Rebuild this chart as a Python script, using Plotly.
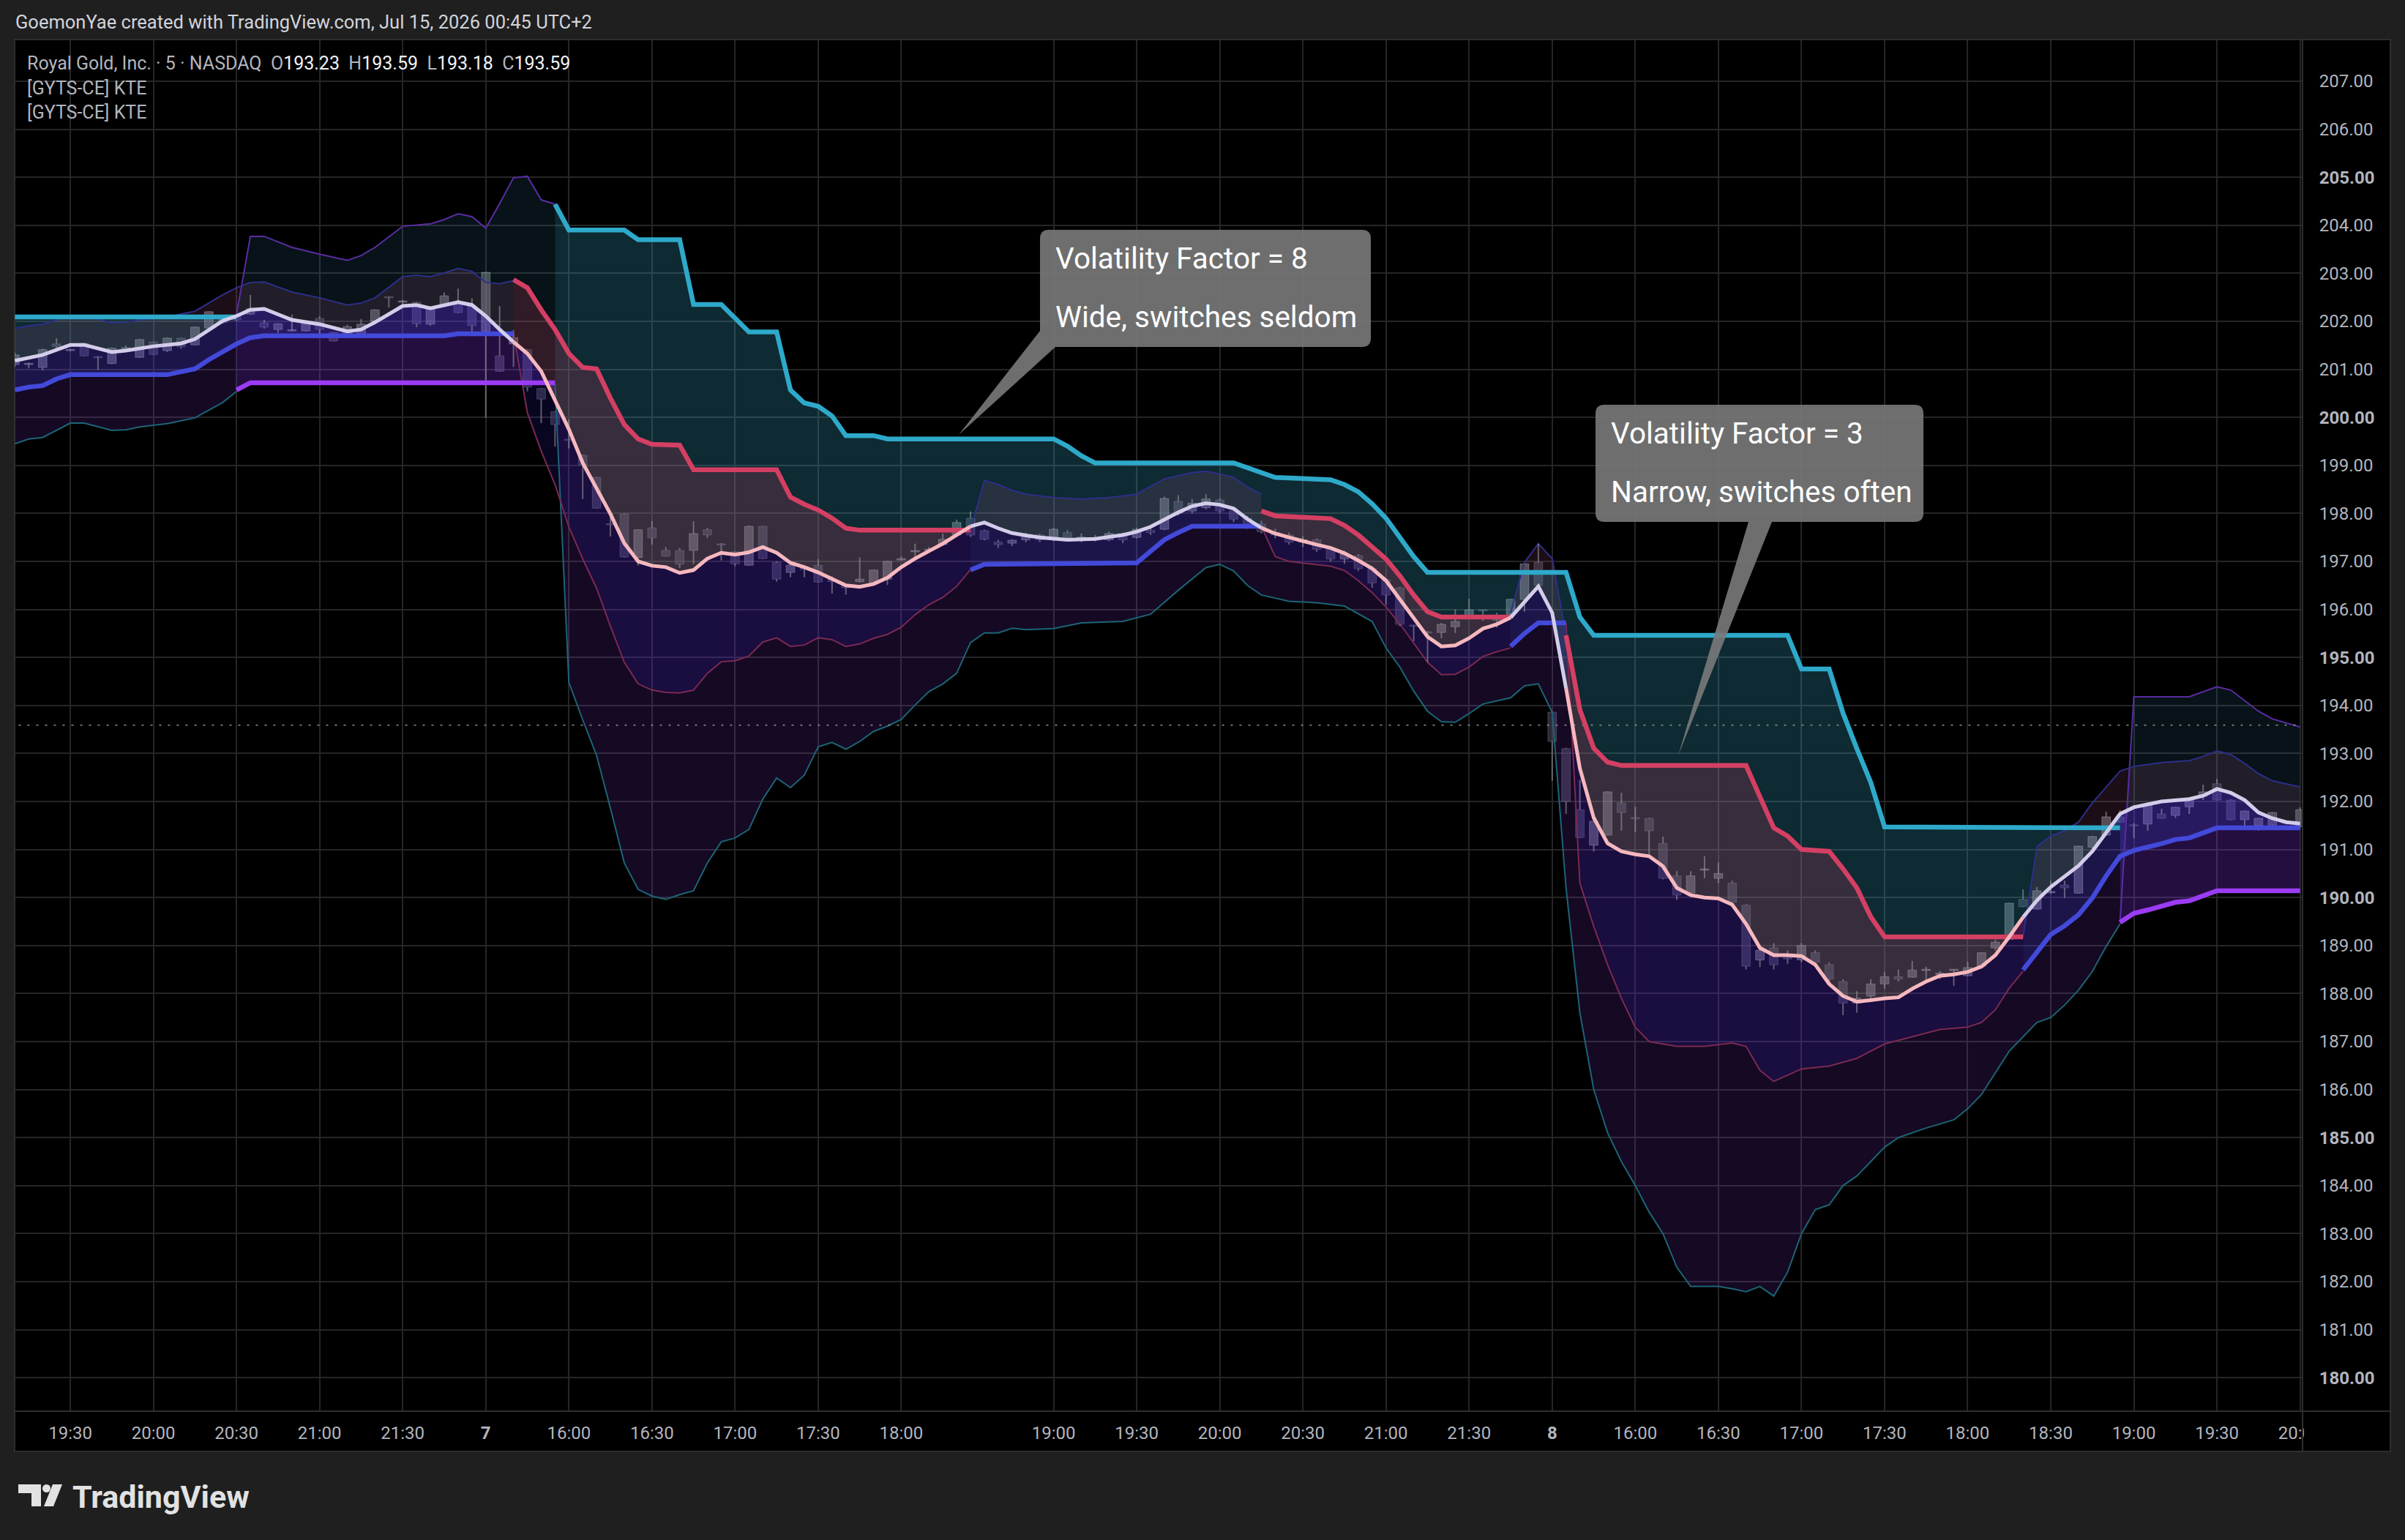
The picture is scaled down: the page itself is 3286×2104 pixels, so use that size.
import plotly.graph_objects as go

W, H = 3286, 2104
L_PX, R_PX, T_PX, B_PX = 20, 3146, 54, 1928

# ---------------- candles (5-min bars, index 0 = 19:10 of day 6) ----------------
opens = [201.10,201.10,201.04,201.53,201.39,201.54,201.25,201.12,201.38,201.25,
         201.57,201.39,201.65,201.51,201.86,202.05,202.09,202.15,201.97,201.83,
         201.80,201.80,202.06,201.77,201.66,201.73,202.00,202.50,202.40,202.40,
         201.94,202.34,202.40,202.32,201.80,201.28,201.53,201.41,200.60,200.12,
         199.53,199.21,198.75,197.78,197.99,197.08,197.70,197.23,197.23,197.23,
         197.66,197.36,197.20,196.92,197.73,196.98,196.77,196.84,196.92,196.63,
         196.50,196.58,196.53,196.63,197.03,197.20,197.23,197.35,197.55,197.90,
         197.64,197.40,197.38,197.45,197.55,197.45,197.60,197.48,197.50,197.45,
         197.58,197.50,197.65,197.67,198.25,198.05,198.12,198.28,198.05,197.90,
         197.78,197.60,197.55,197.40,197.45,197.28,197.05,197.12,196.85,196.62,
         196.45,195.66,195.53,195.52,195.64,195.83,195.98,195.79,195.90,196.21,
         196.98,193.86,193.10,191.83,191.09,191.30,191.97,191.66,191.65,191.13,
         190.45,190.10,190.57,190.40,190.30,189.84,188.70,188.95,188.75,188.70,
         188.85,188.60,188.25,187.80,187.95,188.20,188.35,188.34,188.48,188.40,
         188.48,188.37,188.57,188.95,189.13,189.96,189.76,190.10,190.26,190.09,
         191.05,191.30,191.68,191.51,191.53,191.74,191.71,191.89,192.11,192.37,
         192.03,191.62,191.50,191.51,191.55,191.48]
highs = [201.35,201.14,201.43,201.65,201.41,201.55,201.27,201.45,201.50,201.63,
         201.58,201.66,201.66,201.89,202.21,202.08,202.10,202.55,202.03,201.96,
         202.14,201.99,202.11,201.78,201.93,202.05,202.25,202.51,202.44,202.41,
         202.27,202.60,202.68,202.48,203.03,202.32,201.82,201.42,200.61,200.13,
         199.96,199.22,198.76,197.99,198.00,197.67,197.84,197.30,197.28,197.84,
         197.70,197.38,197.21,197.75,197.74,197.00,196.93,196.92,197.05,196.69,
         196.51,197.08,196.83,197.01,197.10,197.37,197.30,197.58,197.87,198.04,
         197.66,197.45,197.46,197.60,197.58,197.70,197.65,197.58,197.55,197.62,
         197.60,197.70,197.72,198.35,198.38,198.30,198.40,198.32,198.10,197.95,
         197.85,197.68,197.60,197.52,197.48,197.32,197.22,197.15,196.90,196.65,
         196.47,195.67,195.55,195.72,196.00,196.22,195.99,195.93,196.22,196.96,
         197.37,193.87,193.12,192.45,191.60,192.21,192.18,191.89,191.66,191.27,
         190.55,190.55,190.86,190.73,190.35,189.86,189.00,189.05,188.90,189.05,
         188.90,188.65,188.30,188.05,188.30,188.45,188.50,188.68,188.56,188.47,
         188.50,188.66,188.86,189.12,189.89,190.17,190.22,190.35,190.35,191.08,
         191.28,191.79,191.82,191.55,191.98,191.85,191.89,192.04,192.35,192.47,
         192.04,191.81,191.66,191.78,191.60,191.88]
lows = [201.05,201.02,200.98,201.42,201.38,201.27,200.99,201.11,201.36,201.24,
        201.30,201.36,201.43,201.50,201.85,201.95,202.00,202.14,201.85,201.76,
        201.79,201.79,201.73,201.58,201.65,201.71,201.99,202.29,202.33,201.88,
        201.91,202.33,202.17,201.75,199.99,200.95,201.05,200.54,199.88,199.39,
        199.35,198.30,198.10,197.52,197.08,196.91,197.35,197.10,196.86,196.94,
        197.49,197.02,196.90,196.91,197.05,196.58,196.67,196.67,196.56,196.33,
        196.31,196.56,196.52,196.51,197.02,197.06,197.19,197.34,197.54,197.51,
        197.44,197.28,197.32,197.40,197.40,197.42,197.45,197.40,197.42,197.42,
        197.38,197.48,197.55,197.65,197.95,198.00,198.08,198.00,197.82,197.68,
        197.58,197.48,197.35,197.30,197.20,197.00,196.95,196.80,196.45,196.10,
        195.65,195.34,194.90,195.40,195.51,195.82,195.76,195.62,195.89,195.95,
        196.49,192.43,191.74,191.24,190.96,191.29,191.39,191.36,190.90,190.38,
        189.95,190.05,190.40,190.30,189.80,188.50,188.55,188.50,188.62,188.65,
        188.55,188.25,187.55,187.60,187.90,188.10,188.25,188.33,188.25,188.30,
        188.16,188.36,188.56,188.90,189.12,189.80,189.75,190.08,189.99,190.08,
        190.93,191.29,191.56,191.24,191.39,191.64,191.66,191.74,192.03,192.02,
        191.61,191.44,191.39,191.50,191.52,191.44]
closes = [201.30,201.11,201.41,201.48,201.40,201.28,201.24,201.44,201.45,201.62,
          201.31,201.65,201.47,201.88,202.20,201.97,202.03,202.26,201.88,201.95,
          201.81,201.98,201.83,201.59,201.89,201.94,202.24,202.49,202.41,201.95,
          202.26,202.53,202.18,201.91,203.02,200.96,201.66,200.63,200.38,199.85,
          199.52,199.01,198.11,197.76,197.09,197.66,197.49,197.11,196.94,197.58,
          197.55,197.34,196.95,197.73,197.06,196.63,196.92,196.83,196.57,196.58,
          196.45,196.63,196.82,197.00,197.05,197.22,197.25,197.46,197.81,197.55,
          197.46,197.35,197.44,197.55,197.45,197.67,197.50,197.50,197.46,197.58,
          197.45,197.67,197.60,198.31,198.00,198.21,198.30,198.05,197.88,197.75,
          197.62,197.55,197.40,197.45,197.25,197.05,197.15,196.85,196.55,196.30,
          195.69,195.65,195.51,195.69,195.75,195.99,195.97,195.77,196.21,196.95,
          196.50,193.25,192.00,191.25,191.59,192.20,191.77,191.64,191.39,190.40,
          190.05,190.45,190.58,190.50,189.90,188.57,188.90,188.60,188.72,189.00,
          188.65,188.30,187.80,187.90,188.20,188.35,188.30,188.49,188.50,188.41,
          188.49,188.54,188.85,189.07,189.88,189.81,190.14,190.12,190.20,191.07,
          191.27,191.68,191.57,191.49,191.94,191.65,191.88,192.03,192.20,192.03,
          191.62,191.80,191.65,191.77,191.57,191.83]
last_price = 193.59

# ---------------- time axis ----------------
tick_idx = [4, 10, 16, 22, 28, 34, 40, 46, 52, 58, 64, 75, 81, 87, 93, 99, 105,
            111, 117, 123, 129, 135, 141, 147, 153, 159, 165]
tick_txt = ["19:30", "20:00", "20:30", "21:00", "21:30", "<b>7</b>", "16:00", "16:30",
            "17:00", "17:30", "18:00", "19:00", "19:30", "20:00", "20:30", "21:00",
            "21:30", "<b>8</b>", "16:00", "16:30", "17:00", "17:30", "18:00", "18:30",
            "19:00", "19:30", "20:00"]
price_ticks = list(range(180, 208))
price_txt = [("<b>%.2f</b>" % v) if v % 5 == 0 else ("%.2f" % v) for v in price_ticks]

# ---------------- KTE centre line [bar, price] ----------------
center = [[0,201.18],[2,201.30],[4,201.51],[5,201.51],[7,201.36],[8,201.39],[10,201.48],[12,201.54],
 [13,201.63],[15,202.01],[16,202.11],[17,202.24],[18,202.26],[20,202.03],[22,201.94],[24,201.79],
 [25,201.83],[26,201.98],[28,202.32],[29,202.34],[30,202.27],[31,202.34],[32,202.40],[33,202.34],
 [34,202.11],[35,201.83],[36,201.57],[37,201.33],[38,200.96],[39,200.35],[40,199.75],[41,199.05],
 [42,198.5],[43,197.99],[44,197.38],[45,197.0],[46,196.91],[47,196.88],[48,196.76],[49,196.82],
 [50,197.06],[51,197.18],[52,197.14],[53,197.19],[54,197.30],[55,197.18],[56,196.97],[57,196.88],
 [58,196.77],[59,196.63],[60,196.50],[61,196.47],[62,196.53],[63,196.66],[64,196.88],[65,197.06],
 [66,197.21],[67,197.37],[68,197.55],[69,197.73],[70,197.81],[71,197.69],[72,197.59],[73,197.54],
 [74,197.5],[76,197.45],[78,197.47],[80,197.55],[81,197.62],[82,197.72],[83,197.88],[84,198.02],
 [85,198.15],[86,198.21],[87,198.18],[88,198.1],[89,197.88],[90,197.7],[91,197.58],[92,197.5],
 [93,197.42],[94,197.35],[95,197.28],[96,197.17],[97,197.02],[98,196.85],[99,196.6],[100,196.2],
 [101,195.8],[102,195.43],[103,195.23],[104,195.25],[105,195.40],[106,195.60],[107,195.69],
 [108,195.83],[109,196.15],[110,196.48],[111,195.93],[112,194.36],[113,192.69],[114,191.66],
 [115,191.13],[116,190.96],[117,190.9],[118,190.86],[119,190.65],[120,190.2],[121,190.05],
 [122,190.0],[123,189.98],[124,189.85],[125,189.45],[126,188.95],[127,188.8],[128,188.8],
 [129,188.78],[130,188.6],[131,188.2],[132,187.95],[133,187.83],[134,187.86],[135,187.9],
 [136,187.92],[137,188.1],[138,188.25],[139,188.37],[140,188.4],[141,188.45],[142,188.56],
 [143,188.80],[144,189.18],[145,189.59],[146,189.94],[147,190.22],[148,190.43],[149,190.66],
 [150,190.96],[151,191.36],[152,191.74],[153,191.88],[155,192.0],[157,192.05],[158,192.12],
 [159,192.26],[160,192.18],[161,192.03],[162,191.77],[163,191.65],[164,191.57],[165,191.54]]

# ---------------- Factor 8 (wide) ----------------
cyan_stop = [
 [[0,202.09],[16,202.09]],
 [[39,204.44],[40,203.9],[44,203.9],[45,203.7],[48,203.7],[49,202.35],[51,202.35],[53,201.78],
  [55,201.78],[56,200.57],[57,200.3],[58,200.23],[59,200.03],[60,199.62],[62,199.62],[63,199.55],
  [75,199.55],[76,199.40],[77,199.2],[78,199.05],[88,199.05],[89,198.95],[90,198.85],[91,198.75],
  [95,198.7],[96,198.6],[97,198.45],[98,198.2],[99,197.9],[100,197.5],[101,197.1],[102,196.77],
  [112,196.77],[113,195.84],[114,195.46],[128,195.46],[129,194.76],[131,194.76],[132,193.84],
  [133,193.1],[134,192.40],[135,191.47],[152,191.45]]]
purple_stop = [
 [[16,200.57],[17,200.72],[39,200.72]],
 [[152,189.48],[153,189.67],[154,189.74],[156,189.90],[157,189.93],[159,190.14],[165,190.14]]]
upper8 = [
 [[16,202.14],[17,203.77],[18,203.77],[20,203.54],[22,203.40],[24,203.27],[25,203.37],[26,203.54],
  [28,203.98],[30,204.03],[31,204.12],[32,204.24],[33,204.18],[34,203.94],[35,204.45],[36,204.99],
  [37,205.02],[38,204.53],[39,204.44]],
 [[152,189.48],[153,194.18],[157,194.18],[158,194.29],[159,194.39],[160,194.32],[161,194.10],
  [162,193.88],[163,193.72],[165,193.55]]]
lower8 = [
 [[0,199.45],[1,199.55],[2,199.58],[4,199.88],[5,199.88],[7,199.73],[8,199.74],[9,199.80],
  [11,199.87],[13,199.99],[15,200.31],[16,200.54]],
 [[39,200.69],[40,194.48],[41,193.7],[42,192.96],[43,191.86],[44,190.72],[45,190.17],[46,190.03],
  [47,189.96],[48,190.06],[49,190.14],[50,190.72],[51,191.16],[52,191.24],[53,191.42],[54,192.05],
  [55,192.49],[56,192.29],[57,192.55],[58,193.14],[59,193.23],[60,193.09],[61,193.25],[62,193.46],
  [63,193.57],[64,193.71],[65,194.01],[66,194.29],[67,194.45],[68,194.67],[69,195.31],[70,195.51],
  [71,195.51],[72,195.61],[73,195.58],[75,195.6],[77,195.72],[80,195.75],[82,195.9],[84,196.4],
  [86,196.87],[87,196.94],[88,196.8],[89,196.5],[90,196.3],[92,196.17],[94,196.14],[96,196.07],
  [98,195.75],[99,195.2],[100,194.8],[101,194.3],[102,193.88],[103,193.66],[104,193.65],
  [105,193.83],[106,194.03],[107,194.1],[108,194.16],[109,194.41],[110,194.45],[111,193.86],
  [112,190.2],[113,187.6],[114,186.0],[115,185.1],[116,184.5],[117,184.0],[118,183.45],
  [119,183.0],[120,182.3],[121,181.9],[123,181.9],[124,181.85],[125,181.79],[126,181.9],
  [127,181.7],[128,182.2],[129,183.0],[130,183.5],[131,183.6],[132,184.0],[133,184.2],
  [134,184.5],[135,184.8],[136,185.0],[138,185.2],[140,185.37],[141,185.6],[142,185.9],
  [143,186.35],[144,186.8],[145,187.1],[146,187.4],[147,187.5],[148,187.76],[149,188.07],
  [150,188.46],[151,188.98],[152,189.45]]]

# ---------------- Factor 3 (narrow) ----------------
red_stop = [
 [[36,202.87],[37,202.70],[38,202.24],[39,201.83],[40,201.33],[41,201.04],[42,201.01],[43,200.4],
  [44,199.85],[45,199.55],[46,199.44],[48,199.42],[49,198.91],[55,198.91],[56,198.34],[57,198.19],
  [58,198.07],[59,197.90],[60,197.69],[61,197.65],[69,197.65]],
 [[90,198.05],[91,197.95],[95,197.89],[96,197.75],[97,197.55],[98,197.3],[99,197.05],[100,196.7],
  [101,196.3],[102,195.95],[103,195.84],[108,195.84]],
 [[112,195.46],[113,193.91],[114,193.11],[115,192.82],[116,192.75],[125,192.75],[126,192.1],
  [127,191.45],[128,191.28],[129,191.0],[131,190.96],[132,190.6],[133,190.2],[134,189.6],
  [135,189.18],[145,189.18]]]
blue_stop = [
 [[0,200.57],[1,200.63],[2,200.66],[3,200.8],[4,200.89],[11,200.89],[12,200.95],[13,201.01],
  [14,201.2],[15,201.37],[16,201.53],[17,201.66],[18,201.70],[31,201.70],[32,201.74],[36,201.74]],
 [[69,196.82],[70,196.94],[81,196.97],[82,197.2],[83,197.45],[84,197.6],[85,197.73],[90,197.73]],
 [[108,195.23],[109,195.5],[110,195.72],[112,195.72]],
 [[145,188.49],[146,188.88],[147,189.23],[148,189.41],[149,189.64],[150,189.99],[151,190.45],
  [152,190.86],[153,190.98],[155,191.12],[156,191.21],[157,191.24],[159,191.45],[165,191.45]]]
upper3 = [
 [[0,201.85],[1,201.91],[2,201.94],[4,202.12],[5,202.12],[7,201.97],[8,201.98],[9,202.03],
  [11,202.09],[13,202.21],[15,202.55],[16,202.70],[17,202.81],[18,202.82],[20,202.61],[22,202.49],
  [24,202.34],[25,202.38],[26,202.49],[28,202.93],[29,202.96],[30,202.93],[31,203.01],[32,203.10],
  [33,203.04],[34,202.81],[35,202.78],[36,202.85]],
 [[69,197.65],[70,198.69],[71,198.60],[72,198.48],[73,198.40],[75,198.33],[77,198.3],[79,198.33],
  [81,198.4],[83,198.72],[85,198.85],[86,198.88],[87,198.82],[88,198.75],[89,198.55],[90,198.4]],
 [[108,195.93],[109,196.98],[110,197.37],[111,197.06],[112,195.48]],
 [[145,189.17],[146,191.06],[147,191.28],[148,191.39],[149,191.57],[150,191.97],[151,192.30],
  [152,192.63],[153,192.73],[155,192.81],[157,192.85],[158,192.94],[159,193.05],[160,192.98],
  [161,192.79],[162,192.58],[163,192.43],[165,192.30]]]
lower3 = [
 [[36,201.74],[37,200.1],[38,199.3],[39,198.6],[40,197.72],[41,197.05],[42,196.44],[43,195.65],
  [44,194.90],[45,194.45],[46,194.32],[47,194.27],[48,194.26],[49,194.32],[50,194.67],[51,194.91],
  [52,194.93],[53,195.03],[54,195.32],[55,195.41],[56,195.23],[57,195.26],[58,195.41],[59,195.37],
  [60,195.23],[61,195.28],[62,195.40],[63,195.48],[64,195.63],[65,195.89],[66,196.10],[67,196.25],
  [68,196.48],[69,196.83]],
 [[90,197.73],[91,197.1],[92,197.0],[93,196.97],[95,196.9],[96,196.81],[97,196.6],[98,196.35],
  [99,196.05],[100,195.7],[101,195.3],[102,194.90],[103,194.64],[104,194.65],[105,194.8],
  [106,195.02],[107,195.12],[108,195.20]],
 [[112,195.72],[113,190.3],[114,189.4],[115,188.6],[116,187.9],[117,187.3],[118,187.0],
  [119,186.95],[120,186.9],[122,186.9],[124,186.97],[125,186.9],[126,186.4],[127,186.17],
  [128,186.3],[129,186.43],[131,186.49],[133,186.65],[135,186.95],[137,187.1],[139,187.25],
  [141,187.3],[142,187.4],[143,187.66],[144,188.11],[145,188.46]]]

# ---------------- helpers ----------------
# paper coordinates in plotly are relative to the plotting area
def px(x):
    return (x - L_PX) / (R_PX - L_PX)

def py(y):
    return (B_PX - y) / (B_PX - T_PX)

def xs(line):
    return [p[0] for p in line]

def ys(line):
    return [p[1] for p in line]

def inside(line, a, b):
    return [p for p in line if a <= p[0] <= b]

fig = go.Figure()

def add_fill(band, color):
    a, b = band[0][0], band[-1][0]
    c = inside(center, a, b)[::-1]
    fig.add_trace(go.Scatter(x=xs(band) + xs(c), y=ys(band) + ys(c), mode="lines",
                             fill="toself", fillcolor=color, line=dict(width=0),
                             hoverinfo="skip"))

def add_line(line, color, width):
    fig.add_trace(go.Scatter(x=xs(line), y=ys(line), mode="lines",
                             line=dict(color=color, width=width), hoverinfo="skip"))

# fills: factor 8
for seg in upper8:
    add_fill(seg, "rgba(50,130,160,0.15)")
for seg in lower8:
    add_fill(seg, "rgba(140,60,240,0.15)")
for seg in cyan_stop:
    add_fill(seg, "rgba(56,168,200,0.25)")
for seg in purple_stop:
    add_fill(seg, "rgba(145,56,255,0.25)")
# fills: factor 3
for seg in upper3:
    add_fill(seg, "rgba(190,95,150,0.15)")
for seg in lower3:
    add_fill(seg, "rgba(60,40,220,0.15)")
for seg in red_stop:
    add_fill(seg, "rgba(220,60,100,0.20)")
for seg in blue_stop:
    add_fill(seg, "rgba(60,70,230,0.20)")

# thin band lines
for seg in lower8:
    add_line(seg, "#1d6476", 2)
for seg in upper8:
    add_line(seg, "#5a2ca2", 2)
for seg in lower3:
    add_line(seg, "#7a2a52", 2)
for seg in upper3:
    add_line(seg, "#2e2e8a", 2)

# candles
bars = list(range(len(opens)))
wx, wy = [], []
up_x, up_b, up_h, dn_x, dn_b, dn_h = [], [], [], [], [], []
for i in bars:
    o, h, l, c = opens[i], highs[i], lows[i], closes[i]
    top, bot = max(o, c), min(o, c)
    if h > top:
        wx += [i, i, None]; wy += [top, h, None]
    if l < bot:
        wx += [i, i, None]; wy += [l, bot, None]
    hh = max(top - bot, 0.025)
    if c >= o:
        up_x.append(i); up_b.append(bot); up_h.append(hh)
    else:
        dn_x.append(i); dn_b.append(bot); dn_h.append(hh)
fig.add_trace(go.Scatter(x=wx, y=wy, mode="lines", line=dict(color="rgba(160,160,168,0.55)", width=2),
                         hoverinfo="skip"))
fig.add_trace(go.Bar(x=up_x, y=up_h, base=up_b, width=0.62,
                     marker=dict(color="rgba(160,160,166,0.45)",
                                 line=dict(color="rgba(190,190,196,0.45)", width=1)), hoverinfo="skip"))
fig.add_trace(go.Bar(x=dn_x, y=dn_h, base=dn_b, width=0.62,
                     marker=dict(color="rgba(78,78,96,0.55)",
                                 line=dict(color="rgba(120,120,134,0.45)", width=1)), hoverinfo="skip"))

# last price dotted line
fig.add_trace(go.Scatter(x=[-1, 170], y=[last_price, last_price], mode="lines",
                         line=dict(color="rgba(150,150,150,0.75)", width=2, dash="3px,9px"),
                         hoverinfo="skip"))

# stop lines
for seg in cyan_stop:
    add_line(seg, "#2ea9ca", 6.5)
for seg in purple_stop:
    add_line(seg, "#9b3cf4", 6.5)
for seg in red_stop:
    add_line(seg, "#d43f64", 6.5)
for seg in blue_stop:
    add_line(seg, "#4349d9", 6.5)

# centre line coloured by the factor-3 state
for seg in blue_stop:
    add_line(inside(center, seg[0][0], seg[-1][0]), "#d4cdea", 5)
for seg in red_stop:
    add_line(inside(center, seg[0][0], seg[-1][0]), "#f5b8be", 5)

# ---------------- shapes ----------------
shapes = []
# chart frame (black) with border
shapes.append(dict(type="rect", xref="paper", yref="paper", x0=px(20), x1=px(3266), y0=py(1983), y1=py(54),
                   fillcolor="#000000", line=dict(color="#2e2e2e", width=2), layer="below"))
# cover the part of the time-axis row under the price scale
shapes.append(dict(type="rect", xref="paper", yref="paper", x0=px(3148), x1=px(3265), y0=py(1982), y1=py(1930),
                   fillcolor="#000000", line=dict(width=0), layer="above"))
# separators
shapes.append(dict(type="line", xref="paper", yref="paper", x0=px(3146), x1=px(3146), y0=py(1983), y1=py(54),
                   line=dict(color="#2e2e2e", width=2), layer="above"))
shapes.append(dict(type="line", xref="paper", yref="paper", x0=px(20), x1=px(3266), y0=py(1928), y1=py(1928),
                   line=dict(color="#2e2e2e", width=2), layer="above"))

def P(x, y):
    return "%.6f,%.6f" % (px(x), py(y))

def callout(x0, y0, x1, y1, r, tail):
    return ("M " + P(x0 + r, y0) + " L " + P(x1 - r, y0) + " Q " + P(x1, y0) + " " + P(x1, y0 + r) +
            " L " + P(x1, y1 - r) + " Q " + P(x1, y1) + " " + P(x1 - r, y1) + tail +
            " L " + P(x0, y0 + r) + " Q " + P(x0, y0) + " " + P(x0 + r, y0) + " Z")

box_fill = "rgba(122,122,122,0.9)"
# box 1 (tail from bottom-left corner)
path1 = callout(1421, 314, 1873, 474, 12,
                " L " + P(1442, 474) + " L " + P(1310, 594) + " L " + P(1421, 452))
shapes.append(dict(type="path", xref="paper", yref="paper", path=path1, fillcolor=box_fill,
                   line=dict(width=0), layer="above"))
# box 2 (tail from bottom edge)
path2 = callout(2180, 553, 2628, 713, 12,
                " L " + P(2421, 713) + " L " + P(2293, 1032) + " L " + P(2389, 713) +
                " L " + P(2192, 713) + " Q " + P(2180, 713) + " " + P(2180, 701))
shapes.append(dict(type="path", xref="paper", yref="paper", path=path2, fillcolor=box_fill,
                   line=dict(width=0), layer="above"))

# TradingView logo mark
logo_col = "#e2e2e2"
shapes.append(dict(type="rect", xref="paper", yref="paper", x0=px(25), x1=px(56), y0=py(2040), y1=py(2028),
                   fillcolor=logo_col, line=dict(width=0), layer="above"))
shapes.append(dict(type="rect", xref="paper", yref="paper", x0=px(43), x1=px(56), y0=py(2058), y1=py(2028),
                   fillcolor=logo_col, line=dict(width=0), layer="above"))
shapes.append(dict(type="circle", xref="paper", yref="paper", x0=px(58), x1=px(69), y0=py(2039), y1=py(2028),
                   fillcolor=logo_col, line=dict(width=0), layer="above"))
shapes.append(dict(type="path", xref="paper", yref="paper",
                   path="M " + P(72, 2028) + " L " + P(85, 2028) + " L " + P(73, 2058) + " L " + P(60, 2058) + " Z",
                   fillcolor=logo_col, line=dict(width=0), layer="above"))

# ---------------- annotations ----------------
FONT = "Roboto, Inter, 'Noto Sans', sans-serif"
ann = []
ann.append(dict(text="GoemonYae created with TradingView.com, Jul 15, 2026 00:45 UTC+2",
                x=px(19), y=py(30), xanchor="left", yanchor="middle",
                font=dict(family=FONT, size=25.5, color="#d1d4dc")))
val = "<span style='color:#f0f2f6'>%s</span>"
legend_txt = ("Royal Gold, Inc. · 5 · NASDAQ\u00a0\u00a0O" + val % "193.23" +
              "\u00a0\u00a0H" + val % "193.59" + "\u00a0\u00a0L" + val % "193.18" +
              "\u00a0\u00a0C" + val % "193.59")
ann.append(dict(text=legend_txt, x=px(35), y=py(86), xanchor="left", yanchor="middle",
                font=dict(family=FONT, size=25, color="#b2b5be")))
ann.append(dict(text="[GYTS-CE] KTE", x=px(35), y=py(120), xanchor="left", yanchor="middle",
                font=dict(family=FONT, size=25, color="#b2b5be")))
ann.append(dict(text="[GYTS-CE] KTE", x=px(35), y=py(153), xanchor="left", yanchor="middle",
                font=dict(family=FONT, size=25, color="#b2b5be")))
for tx, xx, yy in [("Volatility Factor = 8", 1440, 353), ("Wide, switches seldom", 1440, 433),
                   ("Volatility Factor = 3", 2199, 592), ("Narrow, switches often", 2199, 672)]:
    ann.append(dict(text=tx, x=px(xx), y=py(yy), xanchor="left", yanchor="middle",
                    font=dict(family=FONT, size=40.5, color="#ffffff")))
ann.append(dict(text="<b>TradingView</b>", x=px(97), y=py(2045), xanchor="left", yanchor="middle",
                font=dict(family=FONT, size=43, color=logo_col)))
for a in ann:
    a.update(xref="paper", yref="paper", showarrow=False)

fig.update_layout(
    width=W, height=H, autosize=False,
    margin=dict(l=L_PX, r=W - R_PX, t=T_PX, b=H - B_PX, pad=0),
    paper_bgcolor="#1f1f1f", plot_bgcolor="#000000",
    showlegend=False, hovermode=False, barmode="overlay",
    shapes=shapes, annotations=ann,
    xaxis=dict(range=[-0.02, 165.18], tickmode="array", tickvals=tick_idx, ticktext=tick_txt,
               showgrid=True, gridcolor="#262626", gridwidth=1.5, zeroline=False, showline=False,
               ticks="outside", ticklen=8, tickcolor="rgba(0,0,0,0)",
               tickfont=dict(family=FONT, size=24, color="#b2b5be"), fixedrange=True),
    yaxis=dict(side="right", range=[179.302, 207.869], tickmode="array", tickvals=price_ticks,
               ticktext=price_txt, showgrid=True, gridcolor="#262626", gridwidth=1.5,
               zeroline=False, showline=False, ticks="outside", ticklen=17,
               tickcolor="rgba(0,0,0,0)", tickfont=dict(family=FONT, size=24, color="#b2b5be"),
               fixedrange=True),
)

fig.write_html("out.html")
